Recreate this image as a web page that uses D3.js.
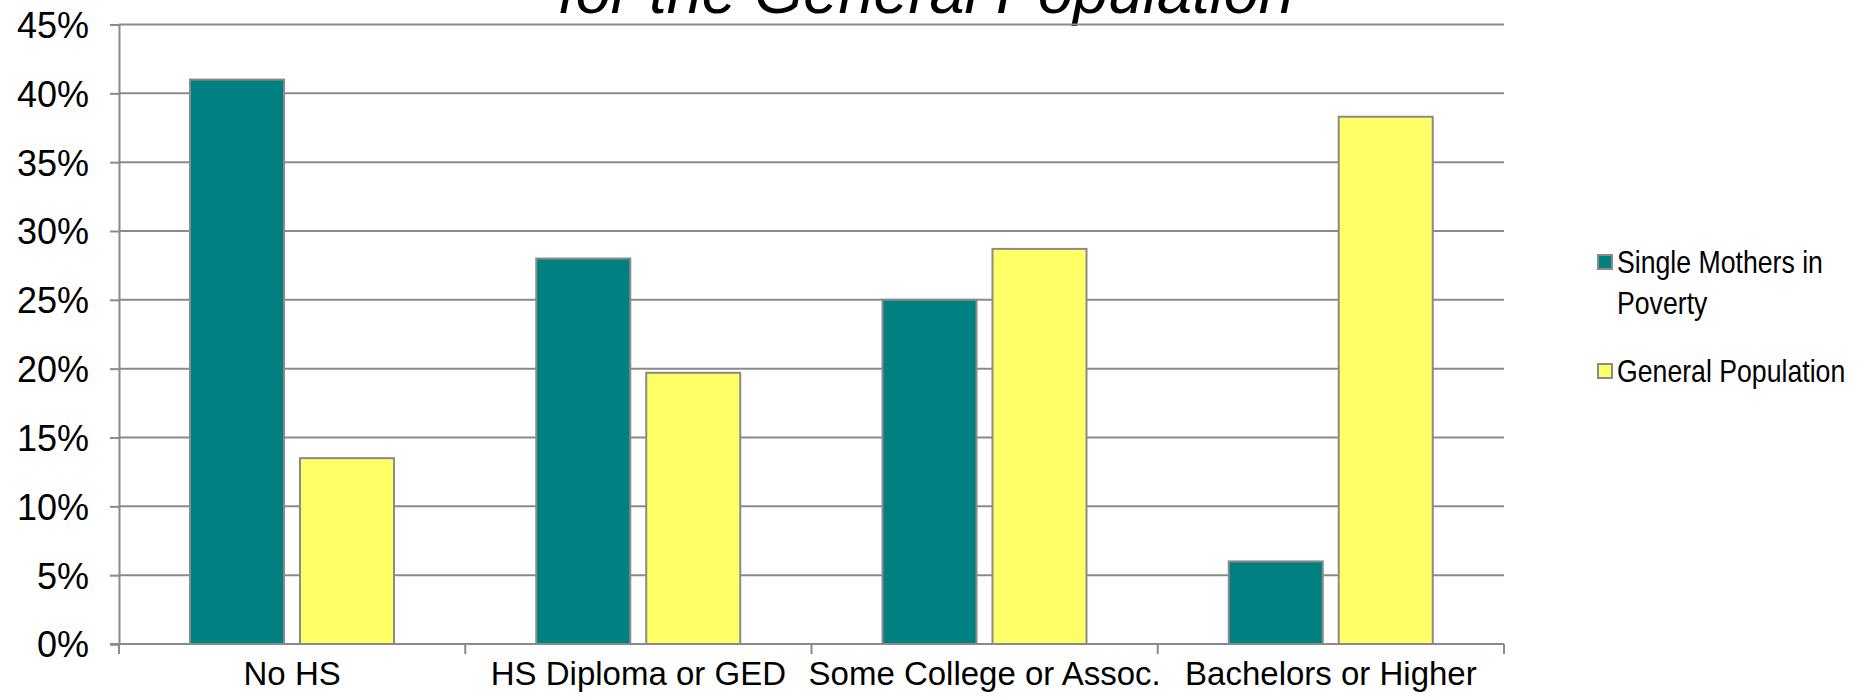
<!DOCTYPE html>
<html>
<head>
<meta charset="utf-8">
<script src="https://cdn.jsdelivr.net/npm/d3@7"></script>
<style>
    body { margin: 0; background: #fff; }
    svg { display: block; font-family: "Liberation Sans", Arial, sans-serif; }
</style>
</head>
<body>
<svg width="1858" height="697"></svg>
<script>
/****** DATA ******/

var categories = ["No HS", "HS Diploma or GED", "Some College or Assoc.", "Bachelors or Higher"];
var seriesNames = ["Single Mothers in Poverty", "General Population"];
var singleMothers = [0.41, 0.28, 0.25, 0.06];
var generalPop = [0.135, 0.197, 0.287, 0.383];
var yTicks = [0, 0.05, 0.10, 0.15, 0.20, 0.25, 0.30, 0.35, 0.40, 0.45];
var titleText = "for the General Population";

var colors = {"Single Mothers in Poverty": "#008080", "General Population": "#ffff66"};

/****** LAYOUT ******/

var svg = d3.select("svg"),
    plot = {left: 119, right: 1504, top: 24.5, bottom: 644},
    gridColor = "#8a8a8a";

// build rows for the grouped bars
var rows = categories.map(function(c, i) {
    return {cat: c, values: [
        {key: seriesNames[0], value: singleMothers[i]},
        {key: seriesNames[1], value: generalPop[i]}
    ]};
});

var x0 = d3.scaleBand().domain(categories).range([plot.left, plot.right]).padding(0);
var x1 = d3.scaleBand().domain(seriesNames).range([71, 275]).paddingInner(0.145);
var y = d3.scaleLinear().domain([0, 0.45]).range([plot.bottom, plot.top]);

// Title (only its lower line is visible in the frame)
svg.append("text")
    .attr("x", 926)
    .attr("y", 13)
    .attr("text-anchor", "middle")
    .attr("font-style", "italic")
    .attr("font-size", 63)
    .attr("fill", "#000")
    .text(titleText);

// Gridlines
svg.append("g")
    .selectAll("line")
    .data(yTicks.slice(1))
    .enter().append("line")
    .attr("x1", plot.left)
    .attr("x2", plot.right)
    .attr("y1", function(d) { return y(d); })
    .attr("y2", function(d) { return y(d); })
    .attr("stroke", gridColor)
    .attr("stroke-width", 2);

// Y axis
var yAxis = d3.axisLeft(y)
    .tickValues(yTicks)
    .tickFormat(d3.format(".0%"))
    .tickSize(9)
    .tickPadding(21);

var gy = svg.append("g")
    .attr("transform", "translate(" + plot.left + ",0)")
    .call(yAxis);
gy.select(".domain").attr("stroke", gridColor).attr("stroke-width", 2);
gy.selectAll(".tick line").attr("stroke", gridColor).attr("stroke-width", 2);
gy.selectAll(".tick text")
    .attr("font-family", "Liberation Sans, Arial, sans-serif")
    .attr("font-size", 36)
    .attr("fill", "#000")
    .attr("dy", "0.36em");

// Bars
var groups = svg.append("g")
    .selectAll("g")
    .data(rows)
    .enter().append("g")
    .attr("transform", function(d) { return "translate(" + x0(d.cat) + ",0)"; });

groups.selectAll("rect")
    .data(function(d) { return d.values; })
    .enter().append("rect")
    .attr("x", function(d) { return x1(d.key); })
    .attr("y", function(d) { return y(d.value); })
    .attr("width", x1.bandwidth())
    .attr("height", function(d) { return y(0) - y(d.value); })
    .attr("fill", function(d) { return colors[d.key]; })
    .attr("stroke", gridColor)
    .attr("stroke-width", 2);

// X axis
var xAxis = d3.axisBottom(x0).tickSize(0).tickPadding(18);
var gx = svg.append("g")
    .attr("transform", "translate(0," + plot.bottom + ")")
    .call(xAxis);
gx.select(".domain").remove();
gx.append("line")
    .attr("x1", plot.left - 9)
    .attr("x2", plot.right)
    .attr("y1", 0).attr("y2", 0)
    .attr("stroke", gridColor)
    .attr("stroke-width", 2);
// category separators
gx.selectAll(".sep")
    .data(categories.concat([null]))
    .enter().append("line")
    .attr("class", "sep")
    .attr("x1", function(d, i) { return plot.left + i * x0.step(); })
    .attr("x2", function(d, i) { return plot.left + i * x0.step(); })
    .attr("y1", 0).attr("y2", 10)
    .attr("stroke", gridColor)
    .attr("stroke-width", 2);
gx.selectAll(".tick text")
    .attr("font-family", "Liberation Sans, Arial, sans-serif")
    .attr("font-size", 33)
    .attr("fill", "#000");

// Legend (text is a bit condensed, like the original)
var legend = svg.append("g").attr("transform", "translate(1597,0)");
var legendItems = [
    {key: seriesNames[0], lines: ["Single Mothers in", "Poverty"], y: 273},
    {key: seriesNames[1], lines: ["General Population"], y: 382}
];
legendItems.forEach(function(item) {
    legend.append("rect")
        .attr("x", 1)
        .attr("y", item.y - 18)
        .attr("width", 14)
        .attr("height", 14)
        .attr("fill", colors[item.key])
        .attr("stroke", gridColor)
        .attr("stroke-width", 2);
    var t = legend.append("g")
        .attr("transform", "translate(20," + item.y + ") scale(0.86,1)")
        .append("text")
        .attr("font-size", 31)
        .attr("fill", "#000");
    item.lines.forEach(function(l, i) {
        t.append("tspan").attr("x", 0).attr("dy", i === 0 ? 0 : 41).text(l);
    });
});
</script>
</body>
</html>
